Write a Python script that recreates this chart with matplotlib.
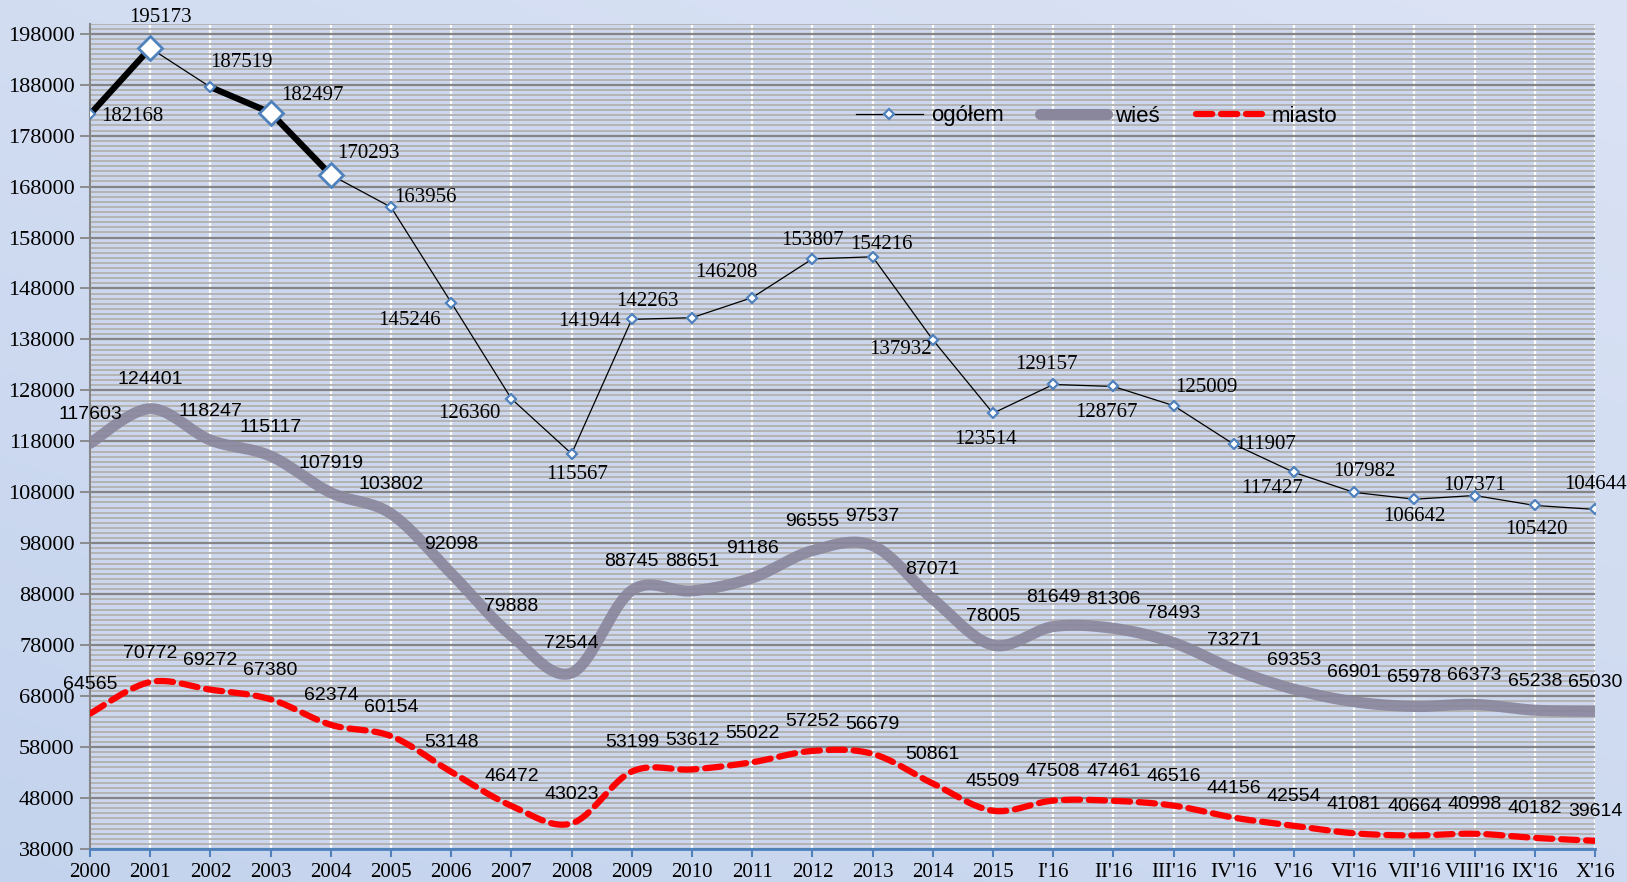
import numpy as np
import matplotlib.pyplot as plt
from matplotlib.lines import Line2D

categories = ['2000', '2001', '2002', '2003', '2004', '2005', '2006', '2007', '2008',
              '2009', '2010', '2011', '2012', '2013', '2014', '2015',
              "I'16", "II'16", "III'16", "IV'16", "V'16", "VI'16", "VII'16",
              "VIII'16", "IX'16", "X'16"]

ogolem = [182168, 195173, 187519, 182497, 170293, 163956, 145246, 126360, 115567,
          141944, 142263, 146208, 153807, 154216, 137932, 123514,
          129157, 128767, 125009, 117427, 111907, 107982, 106642, 107371, 105420, 104644]
# labels as printed on the chart (IV'16 / V'16 swapped there)
ogolem_labels = [182168, 195173, 187519, 182497, 170293, 163956, 145246, 126360, 115567,
                 141944, 142263, 146208, 153807, 154216, 137932, 123514,
                 129157, 128767, 125009, 111907, 117427, 107982, 106642, 107371, 105420, 104644]
wies = [117603, 124401, 118247, 115117, 107919, 103802, 92098, 79888, 72544,
        88745, 88651, 91186, 96555, 97537, 87071, 78005,
        81649, 81306, 78493, 73271, 69353, 66901, 65978, 66373, 65238, 65030]
miasto = [64565, 70772, 69272, 67380, 62374, 60154, 53148, 46472, 43023,
          53199, 53612, 55022, 57252, 56679, 50861, 45509,
          47508, 47461, 46516, 44156, 42554, 41081, 40664, 40998, 40182, 39614]

# label offsets for ogółem (pixels)
lab_off = [(42, -2), (10, 31), (31, 25), (42, 17), (38, 21), (34, 10), (-42, -18),
           (-42, -15), (6, -21), (-42, -2), (-45, 16), (-26, 25), (0, 18), (9, 12),
           (-32, -10), (-8, -26), (-7, 20), (-7, -26), (33, 18), (32, 0), (-22, -16),
           (10, 21), (0, -17), (0, 10), (2, -24), (0, 25)]


def smooth(y, n=24):
    y = np.asarray(y, float)
    x = np.arange(len(y), dtype=float)
    xs, ys = [], []
    for i in range(len(y) - 1):
        p0 = np.array([x[max(i - 1, 0)], y[max(i - 1, 0)]])
        p1 = np.array([x[i], y[i]])
        p2 = np.array([x[i + 1], y[i + 1]])
        p3 = np.array([x[min(i + 2, len(y) - 1)], y[min(i + 2, len(y) - 1)]])
        c1 = p1 + (p2 - p0) / 6
        c2 = p2 - (p3 - p1) / 6
        t = np.linspace(0, 1, n)[:, None]
        b = (1 - t) ** 3 * p1 + 3 * (1 - t) ** 2 * t * c1 + 3 * (1 - t) * t ** 2 * c2 + t ** 3 * p2
        xs.extend(b[:, 0]); ys.extend(b[:, 1])
    return np.array(xs), np.array(ys)


fig = plt.figure(figsize=(16.27, 8.82), dpi=100)

# gradient background
bg = fig.add_axes([0, 0, 1, 1], zorder=-10)
g = np.linspace(0, 1, 256)
gx, gy = np.meshgrid(g, g)
grad = (gy * 0.6 + (1 - gx) * 0.4)
c_top = np.array([0.86, 0.89, 0.96])
c_bot = np.array([0.77, 0.83, 0.93])
img = c_top[None, None, :] * (1 - grad[..., None]) + c_bot[None, None, :] * grad[..., None]
bg.imshow(img, aspect='auto', extent=[0, 1, 0, 1])
bg.axis('off')

ax = fig.add_axes([90 / 1627, 1 - 849 / 882, 1505 / 1627, (849 - 23.5) / 882])
ax.set_facecolor('#ccd6ec')
x = np.arange(len(categories))

ax.set_xlim(0, len(categories) - 1)
ax.set_ylim(38000, 200000)
ax.set_yticks(np.arange(38000, 198001, 10000))
ax.set_yticks(np.arange(38000, 200001, 1000), minor=True)
ax.set_xticks(x)
ax.set_xticklabels(categories)

ax.grid(which='minor', axis='y', color='#b4b4b4', linewidth=1.4)
ax.grid(which='major', axis='y', color='#858585', linewidth=1.6)
ax.grid(which='major', axis='x', color='white', linewidth=1.6)
ax.set_axisbelow(True)

for s in ['top', 'right']:
    ax.spines[s].set_visible(False)
ax.spines['left'].set_color('#868686')
ax.spines['left'].set_linewidth(1.5)
ax.spines['bottom'].set_color('#4f81bd')
ax.spines['bottom'].set_linewidth(2)
ax.tick_params(axis='y', which='major', length=7, width=1.3, color='#868686', pad=4)
ax.tick_params(axis='y', which='minor', length=0)
ax.tick_params(axis='x', length=6, width=1.5, color='#4f81bd', pad=4)
for lab in ax.get_yticklabels():
    lab.set_fontfamily('Liberation Serif')
    lab.set_fontsize(16)
for lab in ax.get_xticklabels():
    lab.set_fontfamily('Liberation Serif')
    lab.set_fontsize(15)

# wieś
sx, sy = smooth(wies)
ax.plot(sx, sy, color='#8a869c', lw=8, alpha=0.9, solid_capstyle='round', zorder=3)
# miasto
sx, sy = smooth(miasto)
ax.plot(sx, sy, color='#ff0000', lw=4.5, ls=(0, (2.6, 1.4)), dash_capstyle='round', zorder=4)

# ogółem
ax.plot(x, ogolem, color='black', lw=0.9, zorder=5)
for a, b in [(0, 1), (2, 3), (3, 4)]:
    ax.plot([x[a], x[b]], [ogolem[a], ogolem[b]], color='black', lw=4.5, zorder=5)
big = [1, 3, 4]
small = [i for i in x if i not in big]
ax.plot(x[small], np.array(ogolem)[small], ls='none', marker='D', ms=5, mfc='white',
        mec='#4f81bd', mew=1.6, zorder=6)
ax.plot(x[big], np.array(ogolem)[big], ls='none', marker='D', ms=12, mfc='white',
        mec='#4f81bd', mew=2, zorder=6)

for i in range(len(x)):
    ax.annotate(str(ogolem_labels[i]), (x[i], ogolem[i]), xytext=lab_off[i],
                textcoords='offset pixels', ha='center', va='center',
                fontsize=15, family='Liberation Serif', zorder=7)
    ax.annotate(str(wies[i]), (x[i], wies[i]), xytext=(0, 29),
                textcoords='offset pixels', ha='center', va='center',
                fontsize=14, family='Liberation Sans', zorder=7)
    ax.annotate(str(miasto[i]), (x[i], miasto[i]), xytext=(0, 29),
                textcoords='offset pixels', ha='center', va='center',
                fontsize=14, family='Liberation Sans', zorder=7)

handles = [
    Line2D([], [], color='black', lw=0.9, marker='D', ms=5, mfc='white', mec='#4f81bd',
           mew=1.6),
    Line2D([], [], color='#8a869c', lw=8, solid_capstyle='round'),
    Line2D([], [], color='#ff0000', lw=4.5, ls=(0, (2.6, 1.4)), dash_capstyle='round'),
]
fig.legend(handles, ['ogółem', 'wieś', 'miasto'], loc='center left',
           bbox_to_anchor=(836 / 1627, 1 - 116 / 882), ncol=3, frameon=False,
           prop={'family': 'Liberation Sans', 'size': 16}, handlelength=3, numpoints=1,
           handletextpad=0.4, columnspacing=1.6)

fig.savefig('out.png', dpi=100)
